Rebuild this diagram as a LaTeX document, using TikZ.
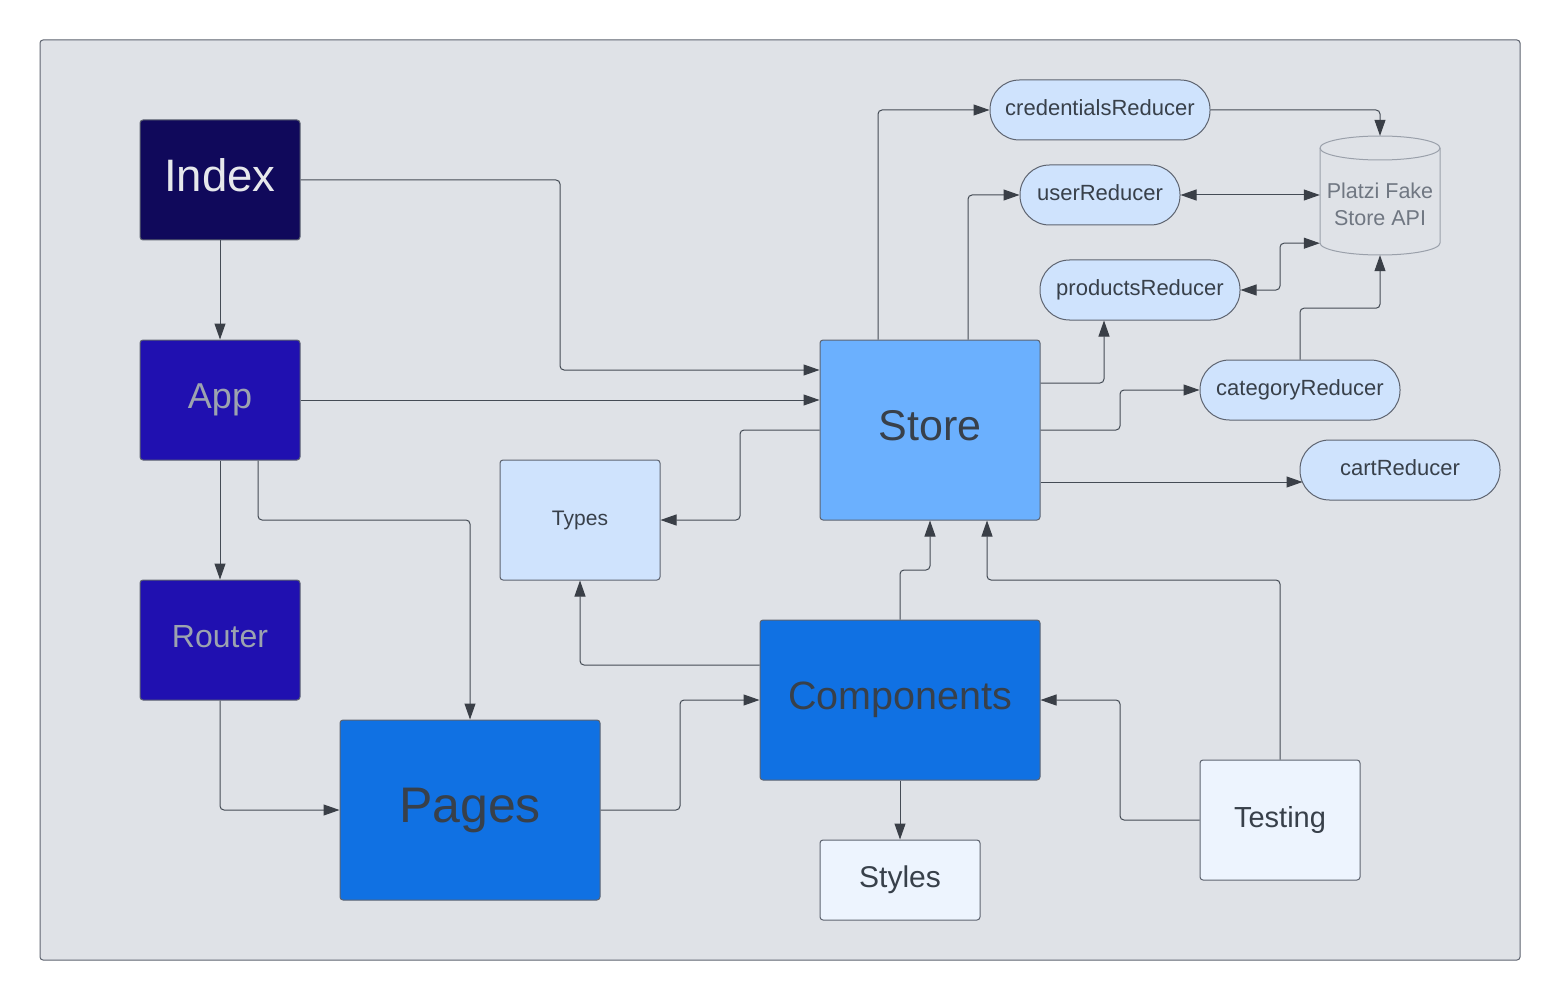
\documentclass[tikz,border=0pt]{standalone}
\usepackage{fontspec}
\setmainfont{Liberation Sans}
\usetikzlibrary{arrows.meta,calc}
\definecolor{bgc}{HTML}{DFE2E7}
\definecolor{framec}{HTML}{5E6470}
\definecolor{nodeb}{HTML}{5E6470}
\definecolor{linec}{HTML}{444B55}
\definecolor{tipc}{HTML}{3A3F47}
\definecolor{idxc}{HTML}{10095B}
\definecolor{appc}{HTML}{2010B0}
\definecolor{pagec}{HTML}{1071E3}
\definecolor{storec}{HTML}{6BB0FE}
\definecolor{lightc}{HTML}{CFE3FD}
\definecolor{palec}{HTML}{EDF4FE}
\definecolor{darkt}{HTML}{38404A}
\definecolor{idxt}{HTML}{E6E8EC}
\definecolor{grayt}{HTML}{9CA3AF}
\definecolor{cylb}{HTML}{9AA0AA}
\definecolor{cylt}{HTML}{707782}
\tikzset{
  box/.style={draw=nodeb, line width=1pt, rounded corners=3pt, inner sep=0pt, align=center,
    execute at begin node=\vphantom{Ag}},
  pill/.style={box, fill=lightc, text=darkt, rounded corners=29.5pt, minimum height=60pt,
    font=\fontsize{22}{26}\selectfont},
  tipa/.tip={Triangle[length=16pt,width=11pt,color=tipc]},
  conn/.style={draw=linec, line width=1pt, rounded corners=4pt, -tipa},
  both/.style={draw=linec, line width=1pt, rounded corners=4pt, tipa-tipa},
}
\begin{document}
\begin{tikzpicture}[x=1pt,y=-1pt]
\useasboundingbox (0,0) rectangle (1560,1000);
\fill[white] (0,0) rectangle (1560,1000);
\draw[fill=bgc, draw=framec, line width=1pt, rounded corners=3pt] (40,40) rectangle (1520,960);

% main boxes
\node[box, fill=idxc, text=idxt, minimum width=160pt, minimum height=120pt,
  font=\fontsize{45.5}{54}\selectfont] (idx) at (220,180) {Index};
\node[box, fill=appc, text=grayt, minimum width=160pt, minimum height=120pt,
  font=\fontsize{36}{43}\selectfont] (app) at (220,400) {App};
\node[box, fill=appc, text=grayt, minimum width=160pt, minimum height=120pt,
  font=\fontsize{32}{38}\selectfont] (router) at (220,640) {Router};
\node[box, fill=pagec, text=darkt, minimum width=260pt, minimum height=180pt,
  font=\fontsize{50}{60}\selectfont] (pages) at (470,810) {Pages};
\node[box, fill=storec, text=darkt, minimum width=220pt, minimum height=180pt,
  font=\fontsize{43}{52}\selectfont] (store) at (930,430) {Store};
\node[box, fill=lightc, text=darkt, minimum width=160pt, minimum height=120pt,
  font=\fontsize{21}{25}\selectfont] (types) at (580,520) {Types};
\node[box, fill=pagec, text=darkt, minimum width=280pt, minimum height=160pt,
  font=\fontsize{39.5}{47}\selectfont] (comp) at (900,700) {Components};
\node[box, fill=palec, text=darkt, minimum width=160pt, minimum height=80pt,
  font=\fontsize{30}{36}\selectfont] (styles) at (900,880) {Styles};
\node[box, fill=palec, text=darkt, minimum width=160pt, minimum height=120pt,
  font=\fontsize{29}{35}\selectfont] (test) at (1280,820) {Testing};

% reducers
\node[pill, minimum width=220pt] (cred) at (1100,110) {credentialsReducer};
\node[pill, minimum width=160pt] (user) at (1100,195) {userReducer};
\node[pill, minimum width=200pt] (prod) at (1140,290) {productsReducer};
\node[pill, minimum width=200pt] (cat) at (1300,390) {categoryReducer};
\node[pill, minimum width=200pt] (cart) at (1400,470) {cartReducer};

% API cylinder
\node[inner sep=0pt, minimum width=120pt, minimum height=119pt] (plat) at (1380,195.5) {};
\draw[fill=bgc, draw=cylb, line width=1pt]
  (1320,148) -- (1320,243) arc[start angle=180, end angle=0, x radius=60, y radius=12]
  -- (1440,148) arc[start angle=0, end angle=-180, x radius=60, y radius=12] -- cycle;
\draw[draw=cylb, line width=1pt] (1320,148) arc[start angle=180, end angle=0, x radius=60, y radius=12];
\node[align=center, text=cylt, inner sep=0pt, font=\fontsize{21.5}{27}\selectfont] (platlbl) at (1380,204)
  {Platzi Fake\\Store API};

% connectors
\draw[conn] (idx.south) -- (app.north);
\draw[conn] (app.south) -- (router.north);
\draw[conn] (idx.east) -- (560,180) |- ($(store.west)+(0,-60)$);
\draw[conn] (app.east) -- (app.east -| store.west);
\draw[conn] ($(app.south)+(38,0)$) -- (258,520) -| (pages.north);
\draw[conn] (router.south) |- (pages.west);
\draw[conn] (store.west) -- (740,430) |- (types.east);
\draw[conn] ($(store.north)+(-52,0)$) |- (cred.west);
\draw[conn] ($(store.north)+(38,0)$) |- (user.west);
\draw[conn] ($(store.east)+(0,-47)$) -| ($(prod.south)+(-36,0)$);
\draw[conn] (store.east) -- (1120,430) |- (cat.west);
\draw[conn] ($(store.east)+(0,52)$) -- (1302.5,482);
\draw[conn] (cred.east) -| (plat.north);
\draw[both] (user.east) -- (user.east -| plat.west);
\draw[both] (prod.east) -- (1280,290) |- ($(plat.south west)+(0,-12)$);
\draw[conn] (cat.north) |- ($(plat.south)+(0,53)$) -- (plat.south);
\draw[conn] (comp.north) -- (900,570) -| (store.south);
\draw[conn] (test.north) -- (1280,580) -| ($(store.south)+(57,0)$);
\draw[conn] ($(comp.west)+(0,-35)$) -| (types.south);
\draw[conn] (pages.east) -- (680,810) |- (comp.west);
\draw[conn] (comp.south) -- (styles.north);
\draw[conn] (test.west) -- (1120,820) |- (comp.east);
\end{tikzpicture}
\end{document}
